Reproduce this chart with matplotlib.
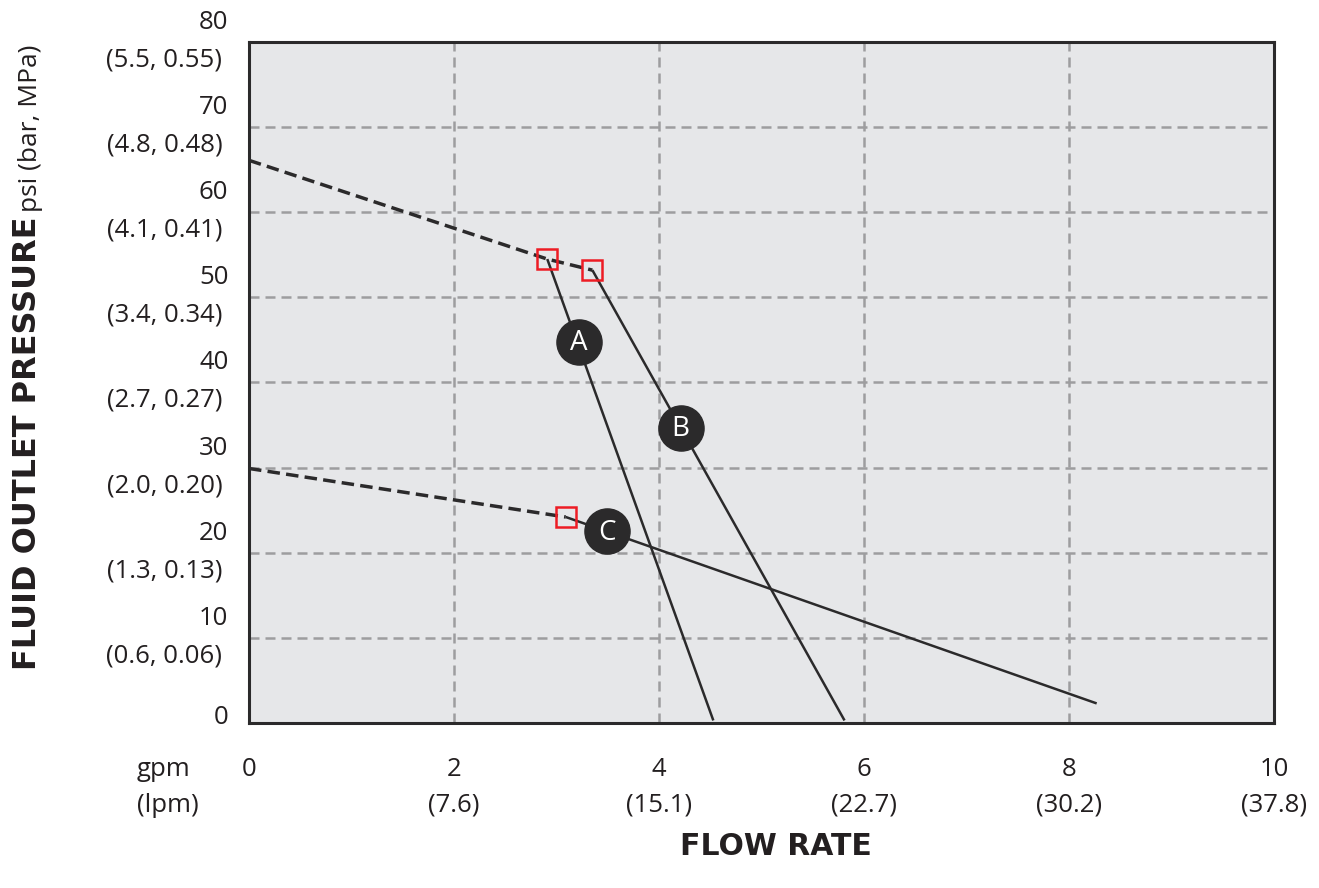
import matplotlib
matplotlib.use("Agg")
import matplotlib.pyplot as plt

# pump curve data (gpm vs psi)
upperDashX = [0, 2.91, 3.35]
upperDashY = [66.1, 54.5, 53.2]
lowerDashX = [0, 3.09]
lowerDashY = [29.9, 24.2]

curveAX = [2.91, 4.53]
curveAY = [54.5, 0.3]
curveBX = [3.35, 5.81]
curveBY = [53.2, 0.3]
curveCX = [3.09, 8.27]
curveCY = [24.2, 2.3]

# red square markers where curves start
startX = [2.91, 3.35, 3.09]
startY = [54.5, 53.2, 24.2]

# circle labels
labelNames = ["A", "B", "C"]
labelX = [3.22, 4.21, 3.49]
labelY = [44.8, 34.7, 22.5]

gpmTicks = [0, 2, 4, 6, 8, 10]
lpmLabels = ["", "(7.6)", "(15.1)", "(22.7)", "(30.2)", "(37.8)"]
psiTicks = [0, 10, 20, 30, 40, 50, 60, 70, 80]
barLabels = ["", "(0.6, 0.06)", "(1.3, 0.13)", "(2.0, 0.20)", "(2.7, 0.27)",
             "(3.4, 0.34)", "(4.1, 0.41)", "(4.8, 0.48)", "(5.5, 0.55)"]

DARK = "#2b2a2b"
TXT = "#231f20"
GRID = "#9d9d9f"
FONT = "Open Sans"
TICKSIZE = 18.5

fig = plt.figure(figsize=(13.19, 8.88), dpi=100)
ax = fig.add_axes([249 / 1319, 1 - 723 / 888, 1025 / 1319, 681 / 888])
ax.set_facecolor("#e6e7e9")
ax.set_xlim(0, 10)
ax.set_ylim(0, 80)

for s in ax.spines.values():
    s.set_color(DARK)
    s.set_linewidth(2.2)

ax.set_xticks(gpmTicks)
ax.set_yticks(psiTicks)
ax.grid(True, color=GRID, linestyle=(0, (4, 2.4)), linewidth=1.8)
ax.set_axisbelow(True)
ax.tick_params(length=0, labelleft=False, labelbottom=False)

# dashed extensions and solid curves
ax.plot(upperDashX, upperDashY, color=DARK, lw=2.5, linestyle=(0, (3.6, 1.8)), zorder=3)
ax.plot(lowerDashX, lowerDashY, color=DARK, lw=2.5, linestyle=(0, (3.6, 1.8)), zorder=3)
for cx, cy in [(curveAX, curveAY), (curveBX, curveBY), (curveCX, curveCY)]:
    ax.plot(cx, cy, color=DARK, lw=1.8, solid_capstyle="butt", zorder=3)

ax.plot(startX, startY, linestyle="none", marker="s", markersize=15,
        markerfacecolor="none", markeredgecolor="#ed1c24", markeredgewidth=1.8, zorder=4)

ax.plot(labelX, labelY, linestyle="none", marker="o", markersize=32.5,
        markerfacecolor=DARK, markeredgecolor=DARK, zorder=5)
for n, lx, ly in zip(labelNames, labelX, labelY):
    ax.text(lx, ly - 0.2, n, color="white", fontsize=20, family=FONT,
            ha="center", va="center", zorder=6)

# y tick labels: psi on top, (bar, MPa) below
ytrans = ax.get_yaxis_transform()
for p, b in zip(psiTicks, barLabels):
    if b == "":
        ax.text(-0.02, p + 0.6, str(p), transform=ytrans, ha="right", va="center",
                fontsize=TICKSIZE, family=FONT, color=TXT)
    else:
        ax.text(-0.02, p + 2.3, str(p), transform=ytrans, ha="right", va="center",
                fontsize=TICKSIZE, family=FONT, color=TXT)
        ax.text(-0.026, p - 2.1, b, transform=ytrans, ha="right", va="center",
                fontsize=TICKSIZE, family=FONT, color=TXT)

# x tick labels: gpm on top, (lpm) below
xtrans = ax.get_xaxis_transform()
for g, l in zip(gpmTicks, lpmLabels):
    ax.text(g, -0.068, str(g), transform=xtrans, ha="center", va="center",
            fontsize=TICKSIZE, family=FONT, color=TXT)
    if l:
        ax.text(g, -0.12, l, transform=xtrans, ha="center", va="center",
                fontsize=TICKSIZE, family=FONT, color=TXT)

fig.text(137 / 1319, 1 - 769 / 888, "gpm", ha="left", va="center",
         fontsize=TICKSIZE, family=FONT, color=TXT)
fig.text(137 / 1319, 1 - 805 / 888, "(lpm)", ha="left", va="center",
         fontsize=TICKSIZE, family=FONT, color=TXT)

fig.text(776 / 1319, 1 - 846 / 888, "FLOW RATE", ha="center", va="center",
         fontsize=21.5, fontweight="bold", family="DejaVu Sans", color=TXT)

# y axis title in two parts, bold part first then units
yt1 = fig.text(28 / 1319, 1 - 670 / 888, "FLUID OUTLET PRESSURE", rotation=90,
               ha="center", va="bottom", fontsize=23, fontweight="bold",
               family="DejaVu Sans", color=TXT)
fig.canvas.draw()
bb = yt1.get_window_extent()
fig.text(31 / 1319, (bb.y1 + 4) / 888, "psi (bar, MPa)", rotation=90,
         ha="center", va="bottom", fontsize=19, family=FONT, color=TXT)

fig.savefig("out.png", dpi=100)
